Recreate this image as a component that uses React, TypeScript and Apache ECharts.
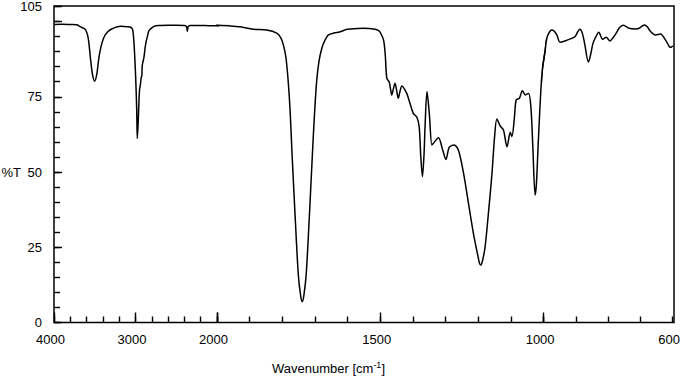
import React, { useEffect, useRef } from "react";
import * as echarts from "echarts";

// IR spectrum: wavenumber (cm-1) and transmittance (%T)
const wavenumbers = [
  4000, 3900, 3800, 3720, 3680, 3640, 3611, 3580, 3550, 3525, 3501, 3475, 3448, 3420, 3387, 3340, 3285, 3182, 3100, 3059,
  3035, 3018, 2998, 2985, 2978, 2968, 2957, 2950, 2945, 2938, 2929, 2922, 2917, 2896, 2875, 2850, 2834, 2773, 2700, 2600,
  2500, 2400, 2375, 2364, 2355, 2330, 2200, 2100, 2000,
  1960, 1929, 1889, 1848, 1817, 1805, 1797, 1789, 1782, 1776, 1771, 1761, 1751, 1744, 1739, 1734, 1727, 1717, 1707, 1701,
  1695, 1688, 1679, 1670, 1659, 1640, 1628, 1618, 1605, 1592, 1552, 1516, 1505, 1500, 1490, 1485, 1480, 1473, 1468, 1465,
  1460, 1455, 1450, 1445, 1440, 1434, 1419, 1410, 1399, 1388, 1381, 1376, 1371, 1366, 1363, 1357, 1350, 1342, 1337, 1322,
  1309, 1299, 1289, 1274, 1261, 1245, 1230, 1215, 1200, 1196, 1192, 1186, 1179, 1169, 1158, 1150, 1143, 1133, 1123, 1112,
  1102, 1097, 1090, 1084, 1074, 1065, 1056, 1046, 1039, 1033, 1026, 1022, 1016, 1005, 995, 990, 982, 975, 967, 959,
  949, 934, 919, 903, 895, 888, 880, 873, 861, 853, 847, 837, 829, 817, 806, 794, 786, 775, 765, 753,
  735, 714, 704, 695, 687, 678, 668, 653, 638, 622, 610, 605, 600,
];
const transmittance = [
  99.0, 99.1, 99.0, 98.9, 98.3, 97.8, 97.2, 94.5, 87.1, 82.0, 80.2, 82.5, 88.2, 92.0, 94.8, 96.6, 97.6, 98.4, 98.3, 98.1,
  97.3, 92.6, 81.5, 70.5, 61.1, 66.0, 73.8, 77.5, 78.2, 79.5, 81.5, 82.0, 85.4, 88.2, 92.6, 95.5, 97.0, 98.4, 98.7, 98.8,
  98.8, 98.7, 98.4, 96.8, 98.2, 98.7, 98.7, 98.6, 98.6,
  98.4, 98.1, 97.3, 97.0, 96.0, 94.5, 92.2, 88.0, 80.0, 70.0, 57.8, 35.7, 15.8, 9.0, 6.9, 9.0, 15.8, 35.7, 57.8, 70.0,
  79.9, 86.5, 91.0, 93.5, 95.4, 96.1, 96.3, 96.6, 97.2, 97.4, 97.6, 97.3, 96.8, 96.2, 93.7, 89.0, 81.0, 79.9, 77.0, 75.5,
  77.5, 79.4, 77.0, 74.4, 76.5, 78.5, 76.0, 73.0, 69.4, 68.1, 65.0, 55.0, 48.4, 56.0, 65.0, 76.6, 69.4, 58.9, 59.5, 61.3,
  57.2, 54.1, 58.1, 58.9, 57.2, 49.5, 39.5, 29.6, 21.5, 19.6, 19.1, 21.0, 25.2, 36.2, 49.5, 61.7, 67.5, 65.2, 63.9, 58.3,
  63.1, 61.7, 67.2, 73.8, 74.4, 76.9, 75.5, 76.0, 71.6, 58.3, 42.3, 46.0, 60.5, 82.7, 90.4, 94.3, 96.3, 97.0, 96.6, 95.4,
  93.0, 93.4, 94.0, 94.8, 96.3, 97.3, 96.0, 92.6, 86.4, 89.5, 92.6, 95.0, 96.3, 94.0, 94.6, 93.4, 94.3, 96.0, 97.8, 98.6,
  97.6, 97.4, 97.6, 98.3, 98.7, 98.0, 96.5, 95.4, 95.7, 93.7, 91.5, 91.3, 91.8,
];

const yTickLabels = [0, 25, 50, 75, 105];
const xTickLabels = [4000, 3000, 2000, 1500, 1000, 600];

const FONT = "'Liberation Sans', Arial, Helvetica, sans-serif";
const PLOT_TOP = 6;
const PLOT_HEIGHT = 316.5;

// Scale break at 2000 cm-1 (4x expansion below): three grids side by side
const segments = [
  { min: 2000, max: 4000, left: 54, width: 163, minor: 200, major: 1000, labels: [4000, 3000, 2000] },
  { min: 1000, max: 2000, left: 217, width: 326.6, minor: 100, major: 500, labels: [1500, 1000] },
  { min: 600, max: 1000, left: 543.6, width: 130.4, minor: 100, major: 0, labels: [600] },
];

export default function App() {
  const ref = useRef<HTMLDivElement>(null);

  useEffect(() => {
    document.body.style.margin = "0";
    if (!ref.current) return;
    const chart = echarts.init(ref.current, undefined, { renderer: "svg" });
    const data = wavenumbers.map((w, i) => [w, transmittance[i]]);
    const tickStyle = { color: "#000", width: 1.4 };

    const grids: any[] = segments.map((s) => ({
      left: s.left,
      top: PLOT_TOP,
      width: s.width,
      height: PLOT_HEIGHT,
      containLabel: false,
    }));
    grids.push({
      left: 54,
      top: PLOT_TOP,
      width: 620,
      height: PLOT_HEIGHT,
      show: true,
      borderColor: "#000",
      borderWidth: 1.5,
      backgroundColor: "transparent",
    });

    // minor-tick axes with labels (indices 0..2)
    const xAxes: any[] = segments.map((s, i) => ({
      type: "value",
      gridIndex: i,
      position: "bottom",
      min: s.min,
      max: s.max,
      interval: s.minor,
      inverse: true,
      axisLine: { show: false },
      axisTick: { show: true, inside: true, length: 6, lineStyle: tickStyle },
      splitLine: { show: false },
      axisLabel: {
        show: true,
        margin: 10,
        color: "#000",
        fontSize: 13,
        fontFamily: FONT,
        padding: [0, 7, 0, 0],
        showMinLabel: true,
        showMaxLabel: true,
        formatter: (v: number) => (s.labels.includes(v) && xTickLabels.includes(v) ? String(v) : ""),
      },
    }));
    // frame grid axis (index 3)
    xAxes.push({ type: "value", gridIndex: 3, min: 0, max: 1, show: false });
    // major-tick axes (indices 4, 5)
    segments.forEach((s, i) => {
      if (!s.major) return;
      xAxes.push({
        type: "value",
        gridIndex: i,
        position: "bottom",
        min: s.min,
        max: s.max,
        interval: s.major,
        inverse: true,
        axisLine: { show: false },
        axisTick: { show: true, inside: true, length: 10, lineStyle: tickStyle },
        splitLine: { show: false },
        axisLabel: { show: false },
      });
    });

    const yAxes: any[] = segments.map((_, i) => ({
      type: "value",
      gridIndex: i,
      position: "left",
      min: 0,
      max: 105,
      interval: 5,
      show: i === 0,
      axisLine: { show: false },
      axisTick: { show: true, inside: true, length: 6, lineStyle: tickStyle },
      splitLine: { show: false },
      axisLabel: {
        show: true,
        margin: 12,
        color: "#000",
        fontSize: 13,
        fontFamily: FONT,
        showMinLabel: true,
        showMaxLabel: true,
        formatter: (v: number) => (yTickLabels.includes(v) ? String(v) : ""),
      },
    }));
    yAxes.push({ type: "value", gridIndex: 3, min: 0, max: 1, show: false });
    yAxes.push({
      type: "value",
      gridIndex: 0,
      position: "left",
      min: 0,
      max: 105,
      interval: 25,
      axisLine: { show: false },
      axisTick: { show: true, inside: true, length: 8, lineStyle: tickStyle },
      splitLine: { show: false },
      axisLabel: { show: false },
    });

    const series: any[] = segments.map((_, i) => ({
      type: "line",
      xAxisIndex: i,
      yAxisIndex: i,
      data,
      showSymbol: false,
      smooth: 0.3,
      clip: true,
      lineStyle: { color: "#000", width: 1.5 },
      silent: true,
    }));

    chart.setOption({
      animation: false,
      backgroundColor: "#fff",
      textStyle: { fontFamily: FONT },
      grid: grids,
      xAxis: xAxes,
      yAxis: yAxes,
      series,
      graphic: [
        {
          type: "text",
          x: 21,
          y: 172,
          style: {
            text: "%T",
            align: "right",
            verticalAlign: "middle",
            fill: "#000",
            fontSize: 13,
            fontFamily: FONT,
          },
        },
        {
          type: "text",
          x: 328.5,
          y: 368,
          style: {
            text: "{a|Wavenumber [cm}{b|-1}{a|]}",
            align: "center",
            verticalAlign: "middle",
            fill: "#000",
            rich: {
              a: { fontSize: 13, fontFamily: FONT, fill: "#000", color: "#000", lineHeight: 16 },
              b: { fontSize: 9, fontFamily: FONT, fill: "#000", color: "#000", verticalAlign: "top", lineHeight: 16, padding: [0, 0, 6, 0] },
            },
          },
        },
      ],
    });
    return () => chart.dispose();
  }, []);

  return <div ref={ref} style={{ width: 683, height: 376 }} />;
}
